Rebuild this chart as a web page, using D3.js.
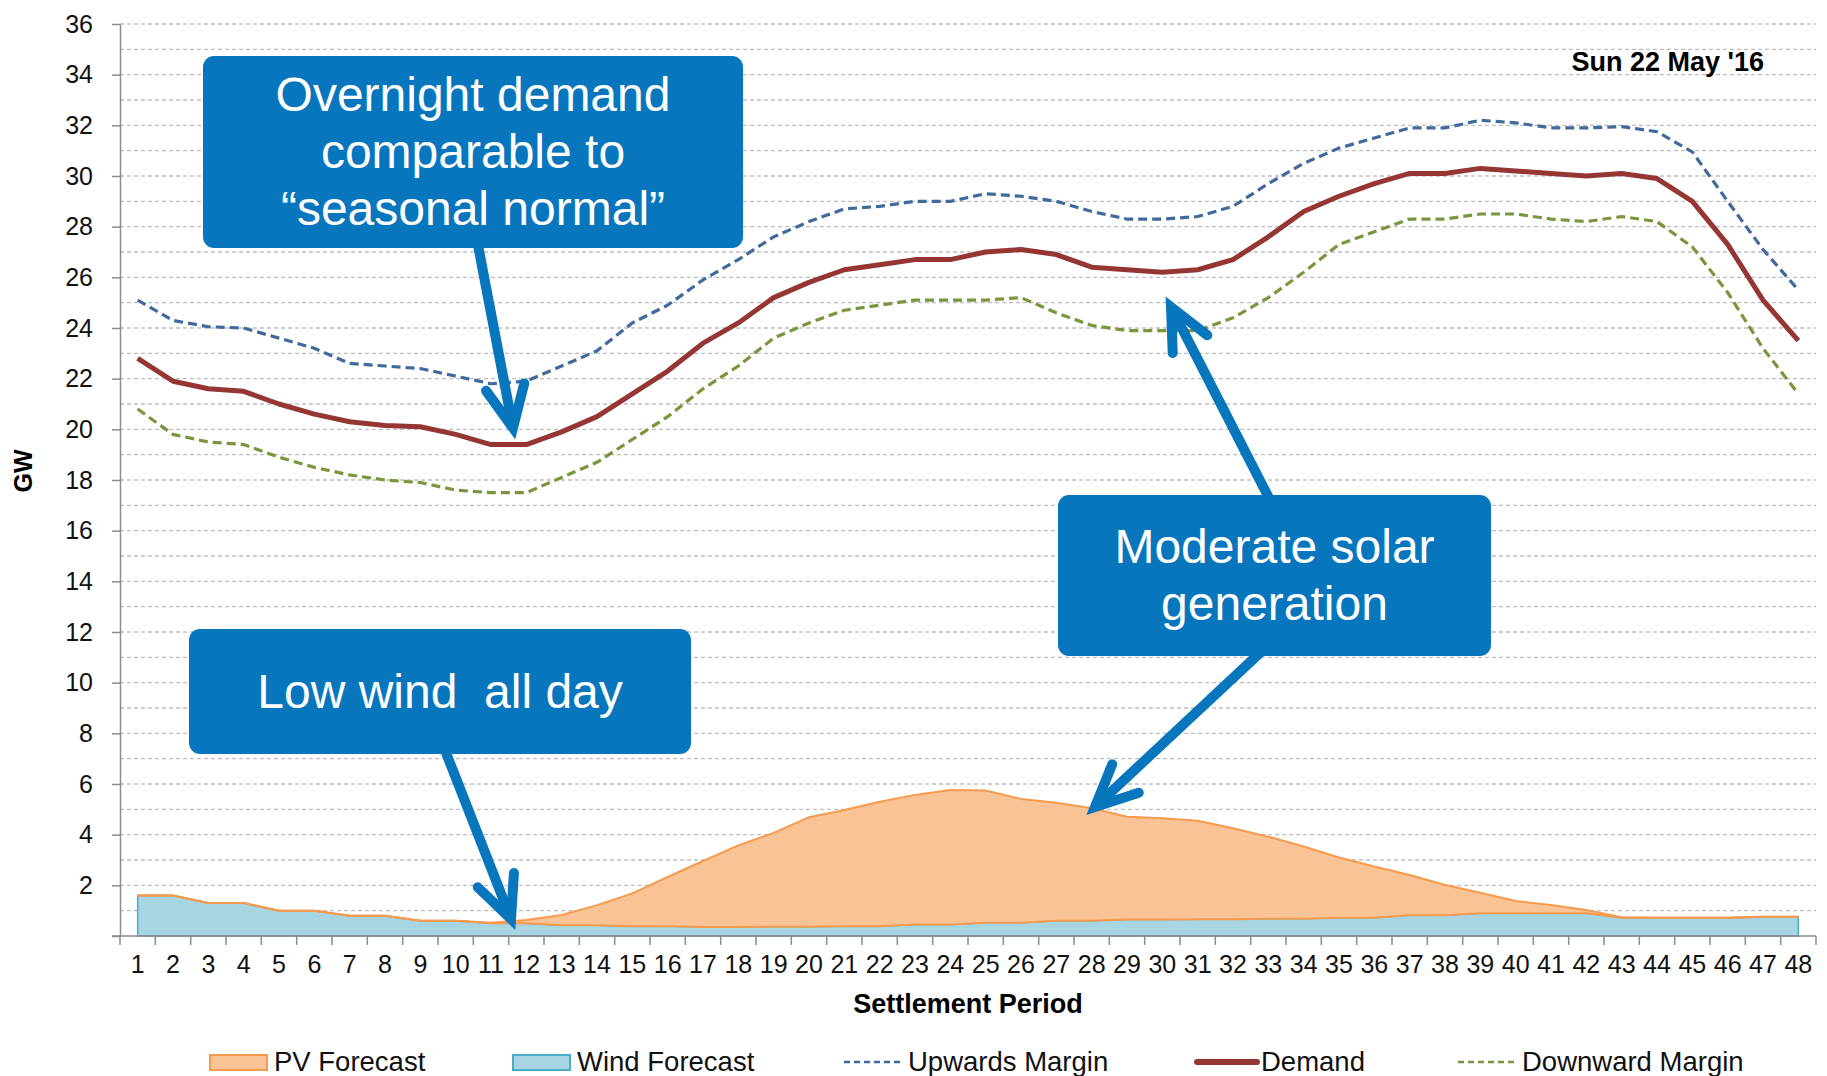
<!DOCTYPE html>
<html>
<head>
<meta charset="utf-8">
<script src="https://cdn.jsdelivr.net/npm/d3@7"></script>
<style>
  body { margin: 0; background: #fff; }
  svg text { font-family: "Liberation Sans", Arial, sans-serif; }
</style>
</head>
<body>
<svg id="chart" width="1827" height="1076"></svg>
<script>
// settlement periods 1..48
const periods = d3.range(1, 49);

const demand = [22.8, 21.9, 21.6, 21.5, 21.0, 20.6, 20.3, 20.15, 20.1, 19.8, 19.4, 19.4,
    19.9, 20.5, 21.4, 22.3, 23.4, 24.2, 25.2, 25.8, 26.3, 26.5, 26.7, 26.7,
    27.0, 27.1, 26.9, 26.4, 26.3, 26.2, 26.3, 26.7, 27.6, 28.6, 29.2, 29.7,
    30.1, 30.1, 30.3, 30.2, 30.1, 30.0, 30.1, 29.9, 29.0, 27.3, 25.1, 23.5];

const upwardsMargin = [25.1, 24.3, 24.05, 24.0, 23.6, 23.2, 22.6, 22.5, 22.4, 22.1, 21.8, 21.9,
    22.5, 23.1, 24.2, 24.9, 25.9, 26.7, 27.6, 28.2, 28.7, 28.8, 29.0, 29.0,
    29.3, 29.2, 29.0, 28.6, 28.3, 28.3, 28.4, 28.8, 29.7, 30.5, 31.1, 31.5,
    31.9, 31.9, 32.2, 32.1, 31.9, 31.9, 31.95, 31.75, 30.95, 29.0, 27.1, 25.5];

const downwardMargin = [20.8, 19.8, 19.5, 19.4, 18.9, 18.5, 18.2, 18.0, 17.9, 17.6, 17.5, 17.5,
    18.1, 18.7, 19.6, 20.5, 21.6, 22.5, 23.6, 24.2, 24.7, 24.9, 25.1, 25.1,
    25.1, 25.2, 24.6, 24.1, 23.9, 23.9, 23.9, 24.4, 25.2, 26.2, 27.3, 27.8,
    28.3, 28.3, 28.5, 28.5, 28.3, 28.2, 28.4, 28.2, 27.2, 25.4, 23.2, 21.4];

const windForecast = [1.6, 1.6, 1.3, 1.3, 1.0, 1.0, 0.8, 0.8, 0.6, 0.6, 0.5, 0.5,
    0.42, 0.42, 0.38, 0.38, 0.36, 0.36, 0.37, 0.37, 0.38, 0.38, 0.45, 0.45,
    0.52, 0.52, 0.6, 0.6, 0.65, 0.65, 0.66, 0.66, 0.68, 0.68, 0.72, 0.72,
    0.82, 0.82, 0.9, 0.9, 0.9, 0.9, 0.72, 0.72, 0.72, 0.72, 0.76, 0.76];

const pvForecast = [0, 0, 0, 0, 0, 0, 0, 0, 0, 0, 0.02, 0.13,
    0.41, 0.8, 1.3, 1.95, 2.6, 3.22, 3.7, 4.32, 4.59, 4.92, 5.12, 5.31,
    5.22, 4.89, 4.66, 4.44, 4.06, 4.0, 3.89, 3.59, 3.24, 2.85, 2.38, 2.02,
    1.59, 1.19, 0.81, 0.48, 0.32, 0.13, 0.02, 0, 0, 0, 0, 0];

const yTicks = d3.range(2, 37, 2);
const legendItems = ["PV Forecast", "Wind Forecast", "Upwards Margin", "Demand", "Downward Margin"];

const callouts = [
    {lines: ["Overnight demand", "comparable to", "\u201Cseasonal normal\u201D"], box: [203, 56, 540, 192], arrow: [[477, 240], [513, 428]]},
    {lines: ["Moderate solar", "generation"], box: [1058, 495, 433, 161], arrow: [[1270, 500], [1171, 307]]},
    {lines: ["Low wind  all day"], box: [189, 629, 502, 125], arrow: [[443, 745], [511, 919]]}
];
const extraArrows = [[[1263, 650], [1095, 807]]];

const colors = {
    pvFill: "#FAC395", pvLine: "#F59A4F",
    windFill: "#A7D5E1", windLine: "#4BACC6",
    up: "#41699B", demand: "#963634", down: "#78963C",
    box: "#0876BD", grid: "#BEBEBE", axis: "#8A8A8A"
};

const svg = d3.select("#chart");
const margin = {left: 120, right: 11, top: 24, bottom: 140};
const W = 1827, H = 1076;

const xScale = d3.scaleBand().domain(periods).range([margin.left, W - margin.right]);
const xc = d => xScale(d) + xScale.bandwidth() / 2;
const yScale = d3.scaleLinear().domain([0, 36]).range([H - margin.bottom, margin.top]);

// gridlines every 1 GW
svg.append("g").selectAll("line")
    .data(d3.range(1, 37))
    .join("line")
    .attr("x1", margin.left).attr("x2", W - margin.right)
    .attr("y1", d => yScale(d)).attr("y2", d => yScale(d))
    .attr("stroke", colors.grid).attr("stroke-width", 1.3)
    .attr("stroke-dasharray", "4,3");

// stacked areas: wind at the bottom, PV on top
const stackData = periods.map((p, i) => ({period: p, wind: windForecast[i], pv: pvForecast[i]}));
const series = d3.stack().keys(["wind", "pv"])(stackData);

const area = d3.area()
    .x(d => xc(d.data.period))
    .y0(d => yScale(d[0]))
    .y1(d => yScale(d[1]));

svg.append("path")
    .datum(series[0])
    .attr("d", area)
    .attr("fill", colors.windFill)
    .attr("stroke", colors.windLine)
    .attr("stroke-width", 1.5);

svg.append("path")
    .datum(series[1])
    .attr("d", area)
    .attr("fill", colors.pvFill);

[0, 1].forEach(k => {
    svg.append("path")
        .datum(series[1])
        .attr("fill", "none")
        .attr("stroke", colors.pvLine)
        .attr("stroke-width", 2)
        .attr("d", d3.line().x(d => xc(d.data.period)).y(d => yScale(d[k])));
});

// axes
const yAxis = svg.append("g")
    .attr("transform", `translate(${margin.left},0)`)
    .call(d3.axisLeft(yScale).tickValues([0].concat(yTicks)).tickSize(8).tickSizeOuter(0).tickPadding(19)
        .tickFormat(d => d === 0 ? "" : d));
yAxis.select(".domain").attr("stroke", colors.axis).attr("stroke-width", 1.5);
yAxis.selectAll(".tick line").attr("stroke", colors.axis).attr("stroke-width", 1.5);
yAxis.selectAll(".tick text").attr("font-size", 25).attr("fill", "#111")
    .attr("font-family", "Liberation Sans, Arial, sans-serif");

const xAxis = svg.append("g")
    .attr("transform", `translate(0,${yScale(0)})`)
    .call(d3.axisBottom(xScale).tickSize(0).tickPadding(19));
xAxis.select(".domain").remove();
xAxis.selectAll(".tick text").attr("font-size", 25).attr("fill", "#111")
    .attr("font-family", "Liberation Sans, Arial, sans-serif");
svg.append("line")
    .attr("x1", margin.left - 8).attr("x2", W - margin.right)
    .attr("y1", yScale(0)).attr("y2", yScale(0))
    .attr("stroke", colors.axis).attr("stroke-width", 1.5);
svg.append("g").selectAll("line")
    .data(periods.concat([49]))
    .join("line")
    .attr("x1", d => d === 49 ? W - margin.right : xScale(d))
    .attr("x2", d => d === 49 ? W - margin.right : xScale(d))
    .attr("y1", yScale(0)).attr("y2", yScale(0) + 9)
    .attr("stroke", colors.axis).attr("stroke-width", 1.5);

// lines
const line = arr => d3.line().x((d, i) => xc(periods[i])).y(d => yScale(d))(arr);

svg.append("path").attr("d", line(upwardsMargin))
    .attr("fill", "none").attr("stroke", colors.up).attr("stroke-width", 3.2)
    .attr("stroke-dasharray", "9,5");
svg.append("path").attr("d", line(downwardMargin))
    .attr("fill", "none").attr("stroke", colors.down).attr("stroke-width", 3.2)
    .attr("stroke-dasharray", "9,5");
svg.append("path").attr("d", line(demand))
    .attr("fill", "none").attr("stroke", colors.demand).attr("stroke-width", 5)
    .attr("stroke-linejoin", "round");

// titles
svg.append("text")
    .attr("x", (margin.left + W - margin.right) / 2).attr("y", 1013)
    .attr("text-anchor", "middle").attr("font-size", 27).attr("font-weight", "bold")
    .text("Settlement Period");
svg.append("text")
    .attr("transform", "translate(32,471) rotate(-90)")
    .attr("text-anchor", "middle").attr("font-size", 25).attr("font-weight", "bold")
    .text("GW");
svg.append("text")
    .attr("x", 1764).attr("y", 71)
    .attr("text-anchor", "end").attr("font-size", 27).attr("font-weight", "bold")
    .text("Sun 22 May '16");

// legend
const legendX = [210, 513, 844, 1197, 1458];
const lg = svg.append("g").selectAll("g")
    .data(legendItems)
    .join("g")
    .attr("transform", (d, i) => `translate(${legendX[i]},1062)`);
lg.each(function(d, i) {
    const g = d3.select(this);
    if (i < 2) {
        g.append("rect").attr("x", 0).attr("y", -7).attr("width", 57).attr("height", 15)
            .attr("fill", i === 0 ? colors.pvFill : colors.windFill)
            .attr("stroke", i === 0 ? colors.pvLine : colors.windLine).attr("stroke-width", 2);
    } else {
        const c = [colors.up, colors.demand, colors.down][i - 2];
        g.append("line").attr("x1", 0).attr("x2", 60).attr("y1", 0).attr("y2", 0)
            .attr("stroke", c)
            .attr("stroke-width", i === 3 ? 6 : 2.5)
            .attr("stroke-linecap", i === 3 ? "round" : "butt")
            .attr("stroke-dasharray", i === 3 ? null : "6,4");
    }
    g.append("text").attr("x", 64).attr("y", 9)
        .attr("font-size", 27.5).attr("fill", "#111").text(d);
});

// callouts
function drawArrow(from, tip) {
    const ang = Math.atan2(from[1] - tip[1], from[0] - tip[0]);
    const len = 46, spread = 25 * Math.PI / 180;
    const a1 = [tip[0] + len * Math.cos(ang + spread), tip[1] + len * Math.sin(ang + spread)];
    const a2 = [tip[0] + len * Math.cos(ang - spread), tip[1] + len * Math.sin(ang - spread)];
    const g = svg.append("g").attr("stroke", colors.box).attr("stroke-width", 10)
        .attr("stroke-linecap", "round").attr("stroke-linejoin", "miter").attr("fill", "none");
    g.append("path").attr("d", `M${from[0]},${from[1]}L${tip[0]},${tip[1]}`).attr("stroke-linecap", "butt");
    g.append("path").attr("d", `M${a1[0]},${a1[1]}L${tip[0]},${tip[1]}L${a2[0]},${a2[1]}`);
}

callouts.forEach(c => drawArrow(c.arrow[0], c.arrow[1]));
extraArrows.forEach(a => drawArrow(a[0], a[1]));

callouts.forEach(c => {
    const [bx, by, bw, bh] = c.box;
    svg.append("rect").attr("x", bx).attr("y", by).attr("width", bw).attr("height", bh)
        .attr("rx", 11).attr("fill", colors.box);
    const lh = 57;
    const first = by + bh / 2 - (c.lines.length - 1) * lh / 2 + 16;
    c.lines.forEach((t, i) => {
        svg.append("text")
            .attr("x", bx + bw / 2).attr("y", first + i * lh)
            .attr("text-anchor", "middle").attr("font-size", 48).attr("fill", "#fff")
            .style("white-space", "pre")
            .text(t);
    });
});
</script>
</body>
</html>
